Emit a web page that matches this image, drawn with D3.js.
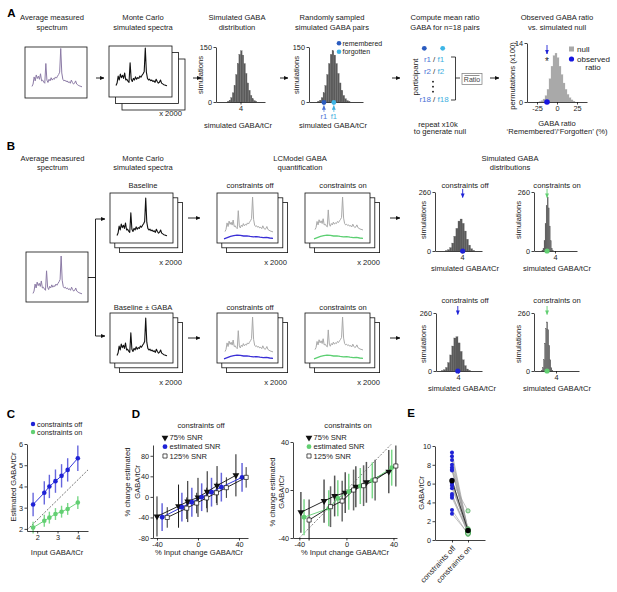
<!DOCTYPE html>
<html><head><meta charset="utf-8">
<script src="https://cdn.jsdelivr.net/npm/d3@7"></script>
<style>
body{margin:0;background:#fff;}
svg{font-family:"Liberation Sans",Arial,sans-serif;}
</style></head><body>
<svg id="fig" width="617" height="592"></svg>
<script>
// ===================== DATA =====================
// generic spectrum shape (relative heights)
const spectrum = [0.04,0.10,0.28,0.18,0.33,0.24,0.30,0.22,0.36,0.18,0.20,0.15,0.12,0.62,0.20,0.14,0.22,0.18,0.26,0.20,0.24,0.22,0.28,0.25,0.30,0.34,0.40,1.00,0.38,0.22,0.18,0.20,0.16,0.18,0.14,0.16,0.12,0.20,0.14,0.10,0.12,0.18,0.10,0.08,0.06,0.05,0.04,0.03];
// LCModel fitted baseline (relative)
const baselineLC = [0.15,0.30,0.45,0.55,0.62,0.58,0.50,0.52,0.45,0.40,0.42,0.35,0.30,0.32,0.25,0.20];

// Panel A histograms
const simCounts = [2,5,12,25,45,75,105,130,140,128,105,78,52,32,18,9,4,2]; // start 3.2, bin 0.1
const simStart = 3.2, simBin = 0.1;
const pairSample = {r1: 3.55, f1: 4.1};
const nullCounts = [0.1,0.3,0.7,1.5,3.0,5.5,8.5,11.0,11.6,10.5,8.5,6.5,4.5,3.0,1.8,1.0,0.5,0.2]; // start -22.5, bin 2.5
const nullStart = -22.5, nullBin = 2.5;
const observedRatio = -12.5;
const ratioTicks = [-25, 0, 25];

// Panel B histograms
const bOffUpCounts = [2,6,15,35,65,100,132,141,122,88,52,26,10,3];   // start 2.4, bin 0.2
const bOnUpCounts  = [3,12,45,120,200,238,190,110,45,12,3];           // start 2.75, bin 0.1
const bOffLoCounts = [2,6,16,38,72,112,148,154,126,88,50,24,9,3];    // start 2.4, bin 0.2
const bOnLoCounts  = [4,15,50,125,190,220,185,115,50,15,4];           // start 2.6, bin 0.1
const bMarkers = {offUp: 4.05, onUp: 3.24, offLo: 3.98, onLo: 3.14};

// Panel C
const cInput   = [1.8, 2.35, 2.6, 2.9, 3.2, 3.5, 4.0];
const cOffMean = [3.15, 3.7, 4.0, 4.25, 4.5, 4.78, 5.33];
const cOffErr  = [0.55, 0.55, 0.55, 0.55, 0.55, 0.55, 0.6];
const cOnMean  = [2.06, 2.38, 2.53, 2.7, 2.81, 2.94, 3.24];
const cOnErr   = [0.28, 0.28, 0.28, 0.28, 0.28, 0.28, 0.3];
const cRefLine = [[1.5, 1.95], [4.5, 4.78]];
const cXTicks = [2, 3, 4], cYTicks = [2, 3, 4, 5, 6];

// Panel D - constraints off
const dOffTriX = [-40, -19, -10, 0, 9, 18.6, 37];
const dOffTriY = [-38, -18, -9, -1, 10, 22, 42];
const dOffTriE = [39, 42, 40, 38, 40, 38, 41];
const dOffEstX = [-35, -15.7, -6, 3.6, 13.2, 22.8, 43];
const dOffEstY = [-39.6, -20, -10.4, -0.6, 9.2, 19, 38];
const dOffEstE = [27, 28, 28, 27, 28, 28, 28];
const dOffSqX  = [-30, -11, -1.3, 8.4, 18, 27.7, 47];
const dOffSqY  = [-40, -22, -12, -2, 8, 18, 38];
const dOffSqE  = [20, 21, 20, 20, 20, 20, 20];
// Panel D - constraints on
const dOnTriX = [-38.7, -19, -10, -1, 8, 17, 36];
const dOnTriY = [-18.6, -9.2, -5, -2.2, 2.7, 6.4, 15.3];
const dOnTriE = [17, 18, 17, 17, 17, 17, 18];
const dOnEstX = [-36, -15, -7.3, 2, 11.8, 22, 38.5];
const dOnEstY = [-22.7, -15.3, -6.9, -1.4, 3.3, 8, 18.6];
const dOnEstE = [15, 15, 15, 15, 15, 15, 15];
const dOnSqX  = [-31.7, -13.5, -3.6, 6.1, 14.6, 24.4, 42];
const dOnSqY  = [-25, -13.9, -9.2, 0, 3.6, 8.3, 20];
const dOnSqE  = [17, 17, 17, 17, 17, 17, 17];
const dRefLine = [[-40, -40], [38, 38]];
const dLegend = ["75% SNR", "estimated SNR", "125% SNR"];

// Panel E
const eCats = ["constraints off", "constraints on"];
const eOff = [9.3, 8.9, 8.5, 8.0, 7.7, 7.5, 7.4, 6.4, 6.3, 6.2, 6.0, 5.8, 5.5, 4.9, 4.7, 4.5, 3.2, 2.8];
const eOn  = [1.1, 1.0, 0.9, 1.2, 0.8, 0.9, 1.0, 0.7, 0.9, 3.1, 0.8, 0.9, 1.1, 0.7, 1.0, 0.8, 0.6, 0.7];
const eYTicks = [0, 2, 4, 6, 8, 10];

// ===================== HELPERS =====================
const svg = d3.select('#fig');
const FS = 7.6, TFS = 7.3;
const BLUE = '#1f22d6', GREEN = '#62cf72', BLUE_BAR = '#6666dd', GREEN_BAR = '#7ad888';
const fmt = d => String(d);
const defs = svg.append('defs');
function marker(id, color){
  defs.append('marker').attr('id', id).attr('viewBox','0 0 6 6').attr('refX',5.5).attr('refY',3)
    .attr('markerWidth',4.5).attr('markerHeight',4.5).attr('orient','auto').attr('markerUnits','userSpaceOnUse')
    .append('path').attr('d','M0,0.4 L6,3 L0,5.6 Z').attr('fill', color);
}
marker('ahK','#111'); marker('ahB', BLUE); marker('ahG', GREEN); marker('ahR','#4b72d6'); marker('ahF','#3fb0e0');

function text(x, y, s, o = {}){
  const t = svg.append('text').attr('x', x).attr('y', y).attr('dy', '0.35em')
    .attr('font-size', o.size || FS).attr('text-anchor', o.anchor || 'middle')
    .attr('fill', o.fill || '#222').text(s);
  if (o.weight) t.attr('font-weight', o.weight);
  if (o.rotate != null) t.attr('transform', `rotate(${o.rotate},${x},${y})`);
  return t;
}
function lines2(x, y, a, b, gap = 9.4){ text(x, y, a); text(x, y + gap, b); }
function arrow(x1, y1, x2, y2, m = 'ahK', color = '#111', w = 0.9){
  svg.append('line').attr('x1',x1).attr('y1',y1).attr('x2',x2).attr('y2',y2)
    .attr('stroke', color).attr('stroke-width', w).attr('marker-end', `url(#${m})`);
}
function stack(x, y, w, h, n, off){
  for (let i = n - 1; i >= 0; i--)
    svg.append('rect').attr('x', x + i*off).attr('y', y + i*off).attr('width', w).attr('height', h)
      .attr('fill', '#fff').attr('stroke', '#111').attr('stroke-width', 0.8);
}
function specLine(x0, x1, yBase, yTop, data, color, sw){
  const sx = d3.scaleLinear().domain([0, data.length - 1]).range([x0, x1]);
  const sy = d3.scaleLinear().domain([0, 1]).range([yBase, yTop]);
  svg.append('path').attr('d', d3.line().x((d, i) => sx(i)).y(d => sy(d))(data))
    .attr('fill', 'none').attr('stroke', color).attr('stroke-width', sw).attr('stroke-linejoin', 'round');
}
function axisStyle(sel){
  sel.attr('font-family', null).attr('font-size', null);
  sel.select('.domain').attr('stroke', '#111').attr('stroke-width', 0.8);
  sel.selectAll('.tick line').attr('stroke', '#111').attr('stroke-width', 0.8);
  sel.selectAll('.tick text').attr('font-size', TFS).attr('fill', '#222');
}
function hist(c){
  const x = d3.scaleLinear().domain(c.xd).range([c.x0, c.x1]);
  const y = d3.scaleLinear().domain([0, c.ymax]).range([c.yb, c.yt]);
  const g = svg.append('g');
  g.selectAll('rect').data(c.counts).join('rect')
    .attr('x', (d, i) => x(c.start + i*c.bin))
    .attr('width', (d, i) => x(c.start + (i+1)*c.bin) - x(c.start + i*c.bin))
    .attr('y', d => y(d)).attr('height', d => c.yb - y(d))
    .attr('fill', c.fill).attr('stroke', c.stroke).attr('stroke-width', 0.25);
  g.append('g').attr('transform', `translate(${c.x0},0)`)
    .call(d3.axisLeft(y).tickValues(c.yticks).tickFormat(fmt).tickSize(2.5).tickPadding(1.5).tickSizeOuter(0)).call(axisStyle);
  g.append('g').attr('transform', `translate(0,${c.yb})`)
    .call(d3.axisBottom(x).tickValues(c.xticks).tickFormat(fmt).tickSize(2.5).tickPadding(1.5).tickSizeOuter(0)).call(axisStyle);
  if (c.ylabel) text(c.ylx, c.yly, c.ylabel, {rotate: -90});
  if (c.xlabel) text(c.xlx, c.xly, c.xlabel);
  return {x, y};
}
function sym(type, x, y, size, fill, stroke, rot = 0){
  svg.append('path').attr('d', d3.symbol().type(type).size(size)())
    .attr('transform', `translate(${x},${y}) rotate(${rot})`)
    .attr('fill', fill).attr('stroke', stroke || 'none').attr('stroke-width', 0.7);
}
function dot(x, y, r, fill, stroke){
  svg.append('circle').attr('cx', x).attr('cy', y).attr('r', r).attr('fill', fill)
    .attr('stroke', stroke || 'none').attr('stroke-width', 0.7);
}

// ===================== PANEL A =====================
text(11.5, 13, 'A', {size: 11.5, weight: 'bold', anchor: 'middle', fill: '#000'});
lines2(52, 17.5, 'Average measured', 'spectrum');
stack(25, 47, 62, 51, 1, 0);
specLine(32, 82, 88, 48.5, spectrum, '#8c7ba6', 1);
arrow(96, 78, 104, 78);

lines2(143, 17.5, 'Monte Carlo', 'simulated spectra');
stack(109, 46, 63, 51, 3, 6.5);
specLine(116, 167, 87, 48, spectrum, '#111', 1.1);
text(182, 113, 'x 2000', {anchor: 'end'});
arrow(193, 78, 201, 78);

lines2(237, 17.5, 'Simulated GABA', 'distribution');
hist({x0: 216, x1: 265, yb: 102, yt: 47, xd: [2.5, 5.5], ymax: 150, counts: simCounts, start: simStart, bin: simBin,
  fill: '#5a5a5a', stroke: '#666', yticks: [0, 150], xticks: [4],
  ylabel: 'simulations', ylx: 200.5, yly: 75, xlabel: 'simulated GABA/tCr', xlx: 238, xly: 125});
arrow(280, 78, 288, 78);

lines2(332, 17.5, 'Randomly sampled', 'simulated GABA pairs');
const hA2 = hist({x0: 309, x1: 363, yb: 102, yt: 47, xd: [2.72, 5.72], ymax: 150, counts: simCounts, start: simStart, bin: simBin,
  fill: '#5a5a5a', stroke: '#666', yticks: [0, 150], xticks: [],
  ylabel: 'simulations', ylx: 296, yly: 75, xlabel: 'simulated GABA/tCr', xlx: 333, xly: 125});
dot(339, 43.3, 2.3, '#2a5bbf'); text(342.5, 43.3, 'remembered', {anchor: 'start', size: 7});
dot(339, 51.7, 2.3, '#3db5e6'); text(342.5, 51.7, 'forgotten', {anchor: 'start', size: 7});
const r1x = hA2.x(pairSample.r1), f1x = hA2.x(pairSample.f1);
dot(r1x, 102.5, 2.4, '#2a5bbf'); dot(f1x, 102.5, 2.4, '#3db5e6');
arrow(r1x, 112, r1x, 105.5, 'ahR', '#4b72d6', 0.7);
arrow(f1x, 112, f1x, 105.5, 'ahF', '#3fb0e0', 0.7);
text(r1x, 116.5, 'r1', {fill: '#4b72d6'}); text(f1x, 116.5, 'f1', {fill: '#3fb0e0'});
arrow(392, 78, 400, 78);

lines2(445, 17.5, 'Compute mean ratio', 'GABA for n=18 pairs');
text(415, 77, 'participant', {rotate: -90, size: 8});
dot(424.3, 48.3, 2.4, '#2a5bbf'); dot(442.7, 48.3, 2.4, '#3db5e6');
[['r1','f1',59.3],['r2','f2',71],['r18','f18',99.3]].forEach(([r, f, yy]) => {
  text(431, yy, r, {anchor: 'end', fill: '#4b72d6', size: 8});
  text(434, yy, '/', {fill: '#333', size: 8});
  text(437.5, yy, f, {anchor: 'start', fill: '#3fb0e0', size: 8});
});
[81.7, 86.7, 91.7].forEach(yy => dot(433, yy, 0.9, '#111'));
svg.append('path').attr('d', 'M451,57 H455.5 V100 H451 M455.5,78 H460').attr('fill', 'none').attr('stroke', '#111').attr('stroke-width', 0.8);
svg.append('rect').attr('x', 462).attr('y', 73.5).attr('width', 20).attr('height', 11).attr('fill', '#fff').attr('stroke', '#777').attr('stroke-width', 0.7);
text(472, 80, 'Ratio', {size: 7, fill: '#444'});
svg.append('line').attr('x1', 464.5).attr('x2', 479.5).attr('y1', 75.5).attr('y2', 75.5).attr('stroke', '#444').attr('stroke-width', 0.6);
text(438, 124, 'repeat x10k'); text(440, 131.5, 'to generate null');
arrow(490, 78, 499, 78);

lines2(557, 17.5, 'Observed GABA ratio', 'vs. simulated null');
const hA3 = hist({x0: 527, x1: 587, yb: 102, yt: 43, xd: [-37.5, 37.5], ymax: 14, counts: nullCounts, start: nullStart, bin: nullBin,
  fill: '#a8a8a8', stroke: '#b0b0b0', yticks: [0, 14], xticks: ratioTicks,
  ylabel: 'permutations (x100)', ylx: 512, yly: 76, xlabel: 'GABA ratio', xlx: 557, xly: 123.5});
text(557, 131.5, '\u2018Remembered\u2019/\u2018Forgotten\u2019 (%)');
svg.append('rect').attr('x', 569).attr('y', 46.5).attr('width', 5).attr('height', 5).attr('fill', '#a8a8a8');
text(577, 49, 'null', {anchor: 'start', size: 8});
dot(571.5, 59, 2.6, '#1515e0');
text(577, 59, 'observed', {anchor: 'start', size: 8}); text(593, 67, 'ratio', {size: 8});
const obsX = hA3.x(observedRatio);
arrow(obsX, 45, obsX, 54, 'ahB', BLUE, 0.9);
text(obsX, 61.5, '*', {size: 10, fill: '#222'});
dot(obsX, 102, 2.8, '#1515e0');

// ===================== PANEL B =====================
text(11, 146, 'B', {size: 11.5, weight: 'bold', fill: '#000'});
lines2(52.5, 158, 'Average measured', 'spectrum');
lines2(143, 158, 'Monte Carlo', 'simulated spectra');
lines2(300, 158, 'LCModel GABA', 'quantification');
lines2(510, 158, 'Simulated GABA', 'distributions');

stack(26, 252, 62, 50, 1, 0);
specLine(33, 82, 295, 256, spectrum, '#8c7ba6', 1);
svg.append('path').attr('d', 'M88,277.5 H95.5 M95.5,219 V336').attr('fill', 'none').attr('stroke', '#111').attr('stroke-width', 0.9);
arrow(95.5, 219, 105, 219); arrow(95.5, 336, 105, 336);

[0, 120].forEach((dy, row) => {
  text(143, 185 + (row ? 122 : 0), row ? 'Baseline \u00b1 GABA' : 'Baseline');
  stack(110, 193 + dy, 63, 50, 3, 4.8);
  specLine(117, 167, 237 + dy, 198 + dy, spectrum, '#111', 1.1);
  text(182, 262 + dy, 'x 2000', {anchor: 'end'});
  arrow(188, 218 + dy, 200, 218 + dy);

  text(250, 185 + (row ? 122 : 0), 'constraints off');
  stack(217, 193 + dy, 61, 50, 3, 4.8);
  specLine(225, 273, 233 + dy, 197 + dy, spectrum, '#a9a9a9', 1);
  specLine(224, 273, 240 + dy, 232 + dy, baselineLC, '#3a2fd6', 1.3);
  text(287, 262 + dy, 'x 2000', {anchor: 'end'});

  text(343, 185 + (row ? 122 : 0), 'constraints on');
  stack(305, 193 + dy, 65, 50, 3, 4.8);
  specLine(315, 363, 231 + dy, 197 + dy, spectrum, '#a9a9a9', 1);
  specLine(314, 363, 240 + dy, 232 + dy, baselineLC, '#5ccf72', 1.3);
  text(380, 262 + dy, 'x 2000', {anchor: 'end'});
  arrow(390, 218 + dy, 400, 218 + dy);
});

// B histograms
const hBoffU = hist({x0: 435, x1: 482, yb: 251, yt: 192, xd: [1.4, 5.9], ymax: 260, counts: bOffUpCounts, start: 2.4, bin: 0.2,
  fill: '#5a5a5a', stroke: '#666', yticks: [0, 260], xticks: [4],
  ylabel: 'simulations', ylx: 423, yly: 220, xlabel: 'simulated GABA/tCr', xlx: 465, xly: 268});
const hBonU = hist({x0: 534, x1: 577, yb: 251, yt: 192, xd: [1.99, 6.11], ymax: 260, counts: bOnUpCounts, start: 2.75, bin: 0.1,
  fill: '#5a5a5a', stroke: '#666', yticks: [0, 260], xticks: [4],
  ylabel: 'simulations', ylx: 518, yly: 220, xlabel: 'simulated GABA/tCr', xlx: 557, xly: 268});
const hBoffL = hist({x0: 436, x1: 482, yb: 371, yt: 313, xd: [1.89, 6.3], ymax: 260, counts: bOffLoCounts, start: 2.4, bin: 0.2,
  fill: '#5a5a5a', stroke: '#666', yticks: [0, 260], xticks: [4],
  ylabel: 'simulations', ylx: 423, yly: 344, xlabel: 'simulated GABA/tCr', xlx: 462, xly: 388});
const hBonL = hist({x0: 534, x1: 579, yb: 371, yt: 313, xd: [1.89, 6.2], ymax: 260, counts: bOnLoCounts, start: 2.6, bin: 0.1,
  fill: '#5a5a5a', stroke: '#666', yticks: [0, 260], xticks: [4],
  ylabel: 'simulations', ylx: 518, yly: 344, xlabel: 'simulated GABA/tCr', xlx: 557, xly: 388});
text(465, 185, 'constraints off'); text(557, 185, 'constraints on');
text(465, 300, 'constraints off'); text(557, 300, 'constraints on');
[[hBoffU, bMarkers.offUp, 251, 189, BLUE, 'ahB'], [hBonU, bMarkers.onUp, 251, 189, GREEN, 'ahG'],
 [hBoffL, bMarkers.offLo, 371, 306, BLUE, 'ahB'], [hBonL, bMarkers.onLo, 371, 306, GREEN, 'ahG']].forEach(([h, v, yb, ya, col, m]) => {
  const xx = h.x(v);
  arrow(xx, ya, xx, ya + 8.5, m, col, 0.9);
  dot(xx, yb, 2.6, col);
});

// ===================== PANEL C =====================
text(11, 414, 'C', {size: 11.5, weight: 'bold', fill: '#000'});
{
  const x = d3.scaleLinear().domain([1.5, 4.5]).range([27, 88]);
  const y = d3.scaleLinear().domain([1.9, 6]).range([531, 444]);
  svg.append('path').attr('d', d3.line().x(d => x(d[0])).y(d => y(d[1]))(cRefLine))
    .attr('stroke', '#333').attr('stroke-width', 0.7).attr('stroke-dasharray', '2,1.5').attr('fill', 'none');
  [[cOffMean, cOffErr, BLUE, BLUE_BAR], [cOnMean, cOnErr, GREEN, GREEN_BAR]].forEach(([m, e, col, bcol]) => {
    cInput.forEach((xi, i) => svg.append('line').attr('x1', x(xi)).attr('x2', x(xi)).attr('y1', y(m[i] - e[i])).attr('y2', y(m[i] + e[i]))
      .attr('stroke', bcol).attr('stroke-width', 1.4));
    svg.append('path').attr('d', d3.line().x((d, i) => x(cInput[i])).y(d => y(d))(m)).attr('fill', 'none').attr('stroke', col).attr('stroke-width', 0.9);
    cInput.forEach((xi, i) => dot(x(xi), y(m[i]), 2.3, col));
  });
  svg.append('g').attr('transform', 'translate(27,0)').call(d3.axisLeft(y).tickValues(cYTicks).tickFormat(fmt).tickSize(2.5).tickPadding(1.5).tickSizeOuter(0)).call(axisStyle);
  svg.append('g').attr('transform', 'translate(0,531)').call(d3.axisBottom(x).tickValues(cXTicks).tickFormat(fmt).tickSize(2.5).tickPadding(1.5).tickSizeOuter(0)).call(axisStyle);
  text(13, 487, 'Estimated GABA/tCr', {rotate: -90});
  text(57, 552, 'Input GABA/tCr');
  dot(33, 424, 2.2, BLUE); text(37, 424, 'constraints off', {anchor: 'start', size: 7.3});
  dot(33, 432, 2.2, GREEN); text(37, 432, 'constraints on', {anchor: 'start', size: 7.3});
}

// ===================== PANEL D =====================
text(136, 414, 'D', {size: 11.5, weight: 'bold', fill: '#000'});
function dPanel(c){
  const x = d3.scaleLinear().domain(c.xd).range(c.xr);
  const y = d3.scaleLinear().domain(c.yd).range(c.yr);
  if (c.ref) svg.append('path').attr('d', d3.line().x(d => x(d[0])).y(d => y(d[1]))(c.ref))
    .attr('stroke', '#333').attr('stroke-width', 0.6).attr('stroke-dasharray', '2,1.5').attr('fill', 'none');
  c.series.forEach(s => s.x.forEach((xi, i) => svg.append('line').attr('x1', x(xi)).attr('x2', x(xi))
    .attr('y1', y(s.y[i] - s.e[i])).attr('y2', y(s.y[i] + s.e[i])).attr('stroke', s.bar).attr('stroke-width', s.bw)));
  c.series.forEach(s => svg.append('path').attr('d', d3.line().x((d, i) => x(s.x[i])).y(d => y(d))(s.y))
    .attr('fill', 'none').attr('stroke', s.line).attr('stroke-width', 0.9));
  c.series.forEach(s => s.x.forEach((xi, i) => s.mark(x(xi), y(s.y[i]))));
  svg.append('g').attr('transform', `translate(${c.xr[0]},0)`).call(d3.axisLeft(y).tickValues(c.yt).tickFormat(fmt).tickSize(2.5).tickPadding(1.5).tickSizeOuter(0)).call(axisStyle);
  svg.append('g').attr('transform', `translate(0,${c.yr[0]})`).call(d3.axisBottom(x).tickValues(c.xt).tickFormat(fmt).tickSize(2.5).tickPadding(1.5).tickSizeOuter(0)).call(axisStyle);
}
const triMark = (px, py) => sym(d3.symbolTriangle, px, py, 20, '#111', null, 180);
const sqMark = (px, py) => sym(d3.symbolSquare, px, py, 17, '#fff', '#111');
const bMark = (px, py) => dot(px, py, 2.4, BLUE);
const gMark = (px, py) => dot(px, py, 2.4, GREEN);

dPanel({xd: [-43.9, 48.8], xr: [153, 248], yd: [-80, 101], yr: [538, 445], yt: [-80, -40, 0, 40, 80], xt: [-40, 0, 40],
  series: [
    {x: dOffTriX, y: dOffTriY, e: dOffTriE, bar: '#1a1a1a', bw: 1, line: '#111', mark: triMark},
    {x: dOffEstX, y: dOffEstY, e: dOffEstE, bar: BLUE_BAR, bw: 1.5, line: BLUE, mark: bMark},
    {x: dOffSqX, y: dOffSqY, e: dOffSqE, bar: '#333', bw: 1, line: '#111', mark: sqMark}
  ]});
text(201, 425, 'constraints off');
triMark(165, 437.7); text(169.5, 437.7, dLegend[0], {anchor: 'start'});
bMark(165, 446.7); text(169.5, 446.7, dLegend[1], {anchor: 'start'});
sqMark(165, 456); text(169.5, 456, dLegend[2], {anchor: 'start'});
text(127, 482, '% change estimated', {rotate: -90});
text(137, 482, 'GABA/tCr', {rotate: -90});
text(199, 552, '% Input change GABA/tCr');

dPanel({xd: [-45.4, 43], xr: [293, 397], yd: [-40, 40], yr: [538, 442], yt: [-40, 0, 40], xt: [-40, 0, 40], ref: dRefLine,
  series: [
    {x: dOnTriX, y: dOnTriY, e: dOnTriE, bar: '#555', bw: 1.5, line: '#111', mark: triMark},
    {x: dOnEstX, y: dOnEstY, e: dOnEstE, bar: GREEN_BAR, bw: 1.5, line: GREEN, mark: gMark},
    {x: dOnSqX, y: dOnSqY, e: dOnSqE, bar: '#666', bw: 1.5, line: '#111', mark: sqMark}
  ]});
text(348, 425, 'constraints on');
triMark(309, 437.7); text(313.5, 437.7, dLegend[0], {anchor: 'start'});
gMark(309, 446.7); text(313.5, 446.7, dLegend[1], {anchor: 'start'});
sqMark(309, 456); text(313.5, 456, dLegend[2], {anchor: 'start'});
text(272.5, 492, '% change estimated', {rotate: -90});
text(281, 492, 'GABA/tCr', {rotate: -90});
text(345, 552, '% Input change GABA/tCr');

// ===================== PANEL E =====================
text(411, 413, 'E', {size: 11.5, weight: 'bold', fill: '#000'});
{
  const x = d3.scalePoint().domain(eCats).range([435, 485]).padding(1.06);
  const y = d3.scaleLinear().domain([0, 10]).range([540, 446]);
  eOff.forEach((v, i) => svg.append('line').attr('x1', x(eCats[0])).attr('x2', x(eCats[1])).attr('y1', y(v)).attr('y2', y(eOn[i]))
    .attr('stroke', '#999').attr('stroke-width', 0.6));
  const mOff = d3.mean(eOff), mOn = d3.mean(eOn);
  svg.append('line').attr('x1', x(eCats[0])).attr('x2', x(eCats[1])).attr('y1', y(mOff)).attr('y2', y(mOn)).attr('stroke', '#333').attr('stroke-width', 1);
  eOff.forEach(v => dot(x(eCats[0]), y(v), 2, BLUE));
  eOn.forEach(v => dot(x(eCats[1]), y(v), 2.1, '#bfe6c3', '#3f9f4c'));
  dot(x(eCats[0]), y(mOff), 2.7, '#000');
  dot(x(eCats[1]), y(mOn), 2.7, '#000');
  svg.append('g').attr('transform', 'translate(435,0)').call(d3.axisLeft(y).tickValues(eYTicks).tickFormat(fmt).tickSize(2.5).tickPadding(1.5).tickSizeOuter(0)).call(axisStyle);
  svg.append('g').attr('transform', 'translate(0,540)').call(d3.axisBottom(x).tickFormat('').tickSize(2.5).tickSizeOuter(0)).call(axisStyle);
  eCats.forEach(cat => text(x(cat) + 2, 547, cat, {anchor: 'end', rotate: -47}));
  text(421.5, 493, 'GABA/tCr', {rotate: -90});
}
</script>
</body></html>
